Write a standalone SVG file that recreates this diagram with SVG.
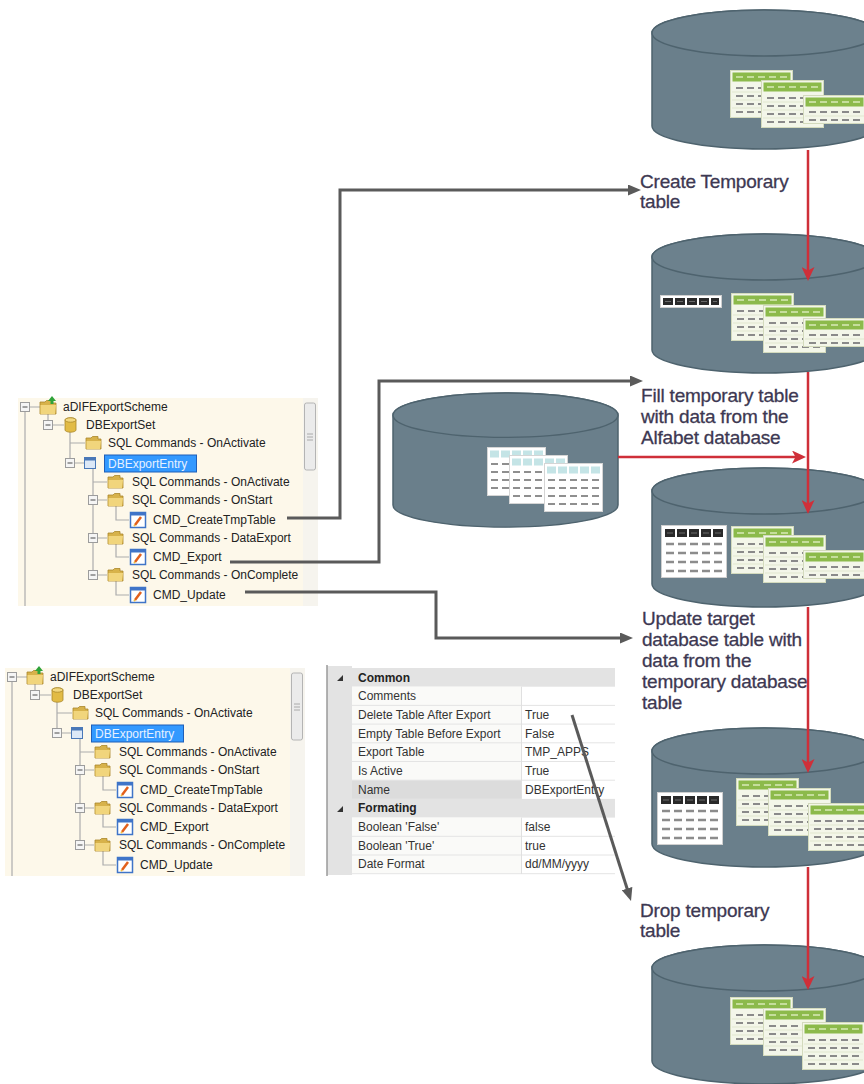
<svg xmlns="http://www.w3.org/2000/svg" xmlns:xlink="http://www.w3.org/1999/xlink" width="864" height="1084" viewBox="0 0 864 1084">
<style>
  .tv{font-family:"Liberation Sans",Arial,sans-serif;font-size:12px;fill:#222}
  .pg{font-family:"Liberation Sans",Arial,sans-serif;font-size:12px;fill:#333}
  .pgb{font-weight:bold;fill:#222}
  .lbl{font-family:"Liberation Sans",Arial,sans-serif;font-size:19px;letter-spacing:-0.2px;fill:#3d3852;stroke:#3d3852;stroke-width:0.3}
  .tl{fill:none;stroke:#acacac;stroke-width:1.2}
  .gray{fill:none;stroke:#5a5a5a;stroke-width:3}
  .red{fill:none;stroke:#cf2f39;stroke-width:2.5}
  .cyl{fill:#6a7f8b;stroke:#4e636e;stroke-width:1.5}
  .rowline{stroke:#e4e4e4;stroke-width:1}
</style>
<defs>
  <marker id="ahGray" markerWidth="13" markerHeight="11" refX="6" refY="5.5" orient="auto" markerUnits="userSpaceOnUse">
    <path d="M0,0 L13,5.5 L0,11 Z" fill="#5a5a5a"/>
  </marker>
  <marker id="ahRed" markerWidth="14" markerHeight="13" refX="8" refY="6.5" orient="auto" markerUnits="userSpaceOnUse">
    <path d="M0,0 L14,6.5 L0,13 L3.5,6.5 Z" fill="#cf2f39"/>
  </marker>

  <!-- database cylinder -->
  <g id="cyl">
    <path class="cyl" d="M0,23 A112.5,23 0 0 1 225,23 V116 A112.5,23 0 0 1 0,116 Z"/>
    <ellipse cx="112.5" cy="23" rx="112.5" ry="23" fill="#6c818d" stroke="#4e636e" stroke-width="1.5"/>
  </g>

  <!-- green data table, 4 rows -->
  <g id="tblG">
    <rect x="0.5" y="0.5" width="62" height="47" fill="#f3f6e9" stroke="#d3dabd"/>
    <rect x="2.5" y="2.5" width="58" height="9" fill="#8cba4b"/>
    <path d="M6,7H13M17,7H24M28,7H35M39,7H46M50,7H57" stroke="#d8eab8" stroke-width="1.5"/>
    <path d="M2,22H61M2,30H61M2,38H61" stroke="#e1e7cf" stroke-width="1"/>
    <path d="M6,18H13M17,18H24M28,18H35M39,18H46M50,18H57M6,26H13M17,26H24M28,26H35M39,26H46M50,26H57M6,34H13M17,34H24M28,34H35M39,34H46M50,34H57M6,42H13M17,42H24M28,42H35M39,42H46M50,42H57" stroke="#8a8a8a" stroke-width="2"/>
  </g>
  <!-- green data table, 2 rows -->
  <g id="tblGs">
    <rect x="0.5" y="0.5" width="62" height="28" fill="#f3f6e9" stroke="#d3dabd"/>
    <rect x="2.5" y="2.5" width="58" height="9" fill="#8cba4b"/>
    <path d="M6,7H13M17,7H24M28,7H35M39,7H46M50,7H57" stroke="#d8eab8" stroke-width="1.5"/>
    <path d="M2,21H61" stroke="#e1e7cf" stroke-width="1"/>
    <path d="M6,17H13M17,17H24M28,17H35M39,17H46M50,17H57M6,25H13M17,25H24M28,25H35M39,25H46M50,25H57" stroke="#8a8a8a" stroke-width="2"/>
  </g>
  <!-- temporary table (black header) -->
  <g id="tblB">
    <rect x="0.5" y="0.5" width="65" height="52" fill="#fff" stroke="#cfcfcf"/>
    <path d="M4,8H14M16,8H26M28,8H38M40,8H50M52,8H62" stroke="#2a2a2a" stroke-width="8"/>
    <path d="M6,8H12M18,8H24M30,8H36M42,8H48M54,8H60" stroke="#6a6a6a" stroke-width="1"/>
    <path d="M5,19H13M17,19H25M29,19H37M41,19H49M53,19H61M5,28H13M17,28H25M29,28H37M41,28H49M53,28H61M5,37H13M17,37H25M29,37H37M41,37H49M53,37H61M5,46H13M17,46H25M29,46H37M41,46H49M53,46H61" stroke="#8c8c8c" stroke-width="2.5"/>
  </g>
  <!-- temporary table header strip -->
  <g id="tblStrip">
    <rect x="0.5" y="0.5" width="61" height="12" fill="#fff" stroke="#cfcfcf"/>
    <path d="M3,6.5H13M15,6.5H25M27,6.5H37M39,6.5H49M51,6.5H59" stroke="#2a2a2a" stroke-width="7"/>
    <path d="M5,6.5H11M17,6.5H23M29,6.5H35M41,6.5H47M53,6.5H57" stroke="#6a6a6a" stroke-width="1"/>
  </g>
  <!-- source table (cyan header) -->
  <g id="tblC">
    <rect x="0.5" y="0.5" width="58" height="48" fill="#fff" stroke="#d5d5d5"/>
    <path d="M3,7H12M14,7H23M25,7H34M36,7H45M47,7H56" stroke="#c4e4e6" stroke-width="7"/>
    <path d="M4,17H11M15,17H22M26,17H33M37,17H44M48,17H55M4,25H11M15,25H22M26,25H33M37,25H44M48,25H55M4,33H11M15,33H22M26,33H33M37,33H44M48,33H55M4,41H11M15,41H22M26,41H33M37,41H44M48,41H55" stroke="#8f8f8f" stroke-width="2"/>
  </g>

  <!-- tree view icons -->
  <g id="exp">
    <rect x="-4.5" y="-4.5" width="9" height="9" fill="#f5f5f5" stroke="#9c9c9c"/>
    <path d="M-2.5,0H2.5" stroke="#4a4a4a" stroke-width="1"/>
  </g>
  <g id="fld">
    <path d="M0,-5 H5 L6.5,-6.5 H12 V-4 H15 V6 H0 Z" fill="#d7b24a" stroke="#a9862b" stroke-width="0.8"/>
    <path d="M0.5,-2 H15 L14,6 H0.5 Z" fill="#f1d57c"/>
  </g>
  <g id="cmd">
    <rect x="-7.5" y="-7.5" width="15" height="15" fill="#fff" stroke="#3f74c8" stroke-width="1.5"/>
    <rect x="-7.5" y="-7.5" width="15" height="3" fill="#3f74c8"/>
    <path d="M-3,5 L3,-3" stroke="#e2601c" stroke-width="2.5"/>
    <path d="M-3,5 L-4,6" stroke="#f2c040" stroke-width="2"/>
  </g>

  <!-- tree view panel -->
  <g id="treeView">
    <rect x="18" y="398" width="300" height="208" fill="#fdf8ea"/>
    <rect x="303" y="398" width="15" height="208" fill="#f6f4ee"/>
    <rect x="304.5" y="403" width="11" height="67" rx="2" fill="#ebebeb" stroke="#b4b4b4"/>
    <path d="M307,434H313M307,437H313M307,440H313" stroke="#9a9a9a" stroke-width="0.8"/>

    <path class="tl" d="M25,412V606M29.5,407H40M48,414V420.5M52.5,425H64M70,430V458.5M70,443H85M74.5,463H84M93,468V570.5M93,482H107M97.5,500H107M97.5,538H107M97.5,575H107M116,506V520H129M116,544V557H129M116,581V595H129"/>

    <use xlink:href="#exp" x="25" y="407"/>
    <use xlink:href="#exp" x="48" y="425"/>
    <use xlink:href="#exp" x="70" y="463"/>
    <use xlink:href="#exp" x="93" y="500"/>
    <use xlink:href="#exp" x="93" y="538"/>
    <use xlink:href="#exp" x="93" y="575"/>

    <!-- scheme icon -->
    <path d="M40,402 H45 L46.5,400.5 H52 V403 H56 V414 H40 Z" fill="#d7b24a" stroke="#a9862b" stroke-width="0.8"/>
    <path d="M40.5,405 H56 L55,414 H40.5 Z" fill="#f1d57c"/>
    <path d="M52,396 L56,401 H53.5 V404 H50.5 V401 H48 Z" fill="#2fa33a"/>
    <!-- export set icon -->
    <path d="M65,420 A5.5,2.2 0 0 1 76,420 V430 A5.5,2.2 0 0 1 65,430 Z" fill="#e2bb45" stroke="#a8862a" stroke-width="0.8"/>
    <ellipse cx="70.5" cy="420" rx="5.5" ry="2.2" fill="#f3d87e" stroke="#a8862a" stroke-width="0.8"/>
    <!-- export entry icon -->
    <rect x="84.5" y="457.5" width="11" height="11" fill="#dce8f7" stroke="#4a78b8"/>
    <rect x="84.5" y="457.5" width="11" height="3" fill="#4a78b8"/>

    <use xlink:href="#fld" x="86" y="443"/>
    <use xlink:href="#fld" x="108" y="482"/>
    <use xlink:href="#fld" x="108" y="500"/>
    <use xlink:href="#fld" x="108" y="538"/>
    <use xlink:href="#fld" x="108" y="575"/>
    <use xlink:href="#cmd" x="138" y="520"/>
    <use xlink:href="#cmd" x="138" y="557"/>
    <use xlink:href="#cmd" x="138" y="595"/>

    <rect x="104.5" y="455" width="92" height="17" fill="#3399ff" stroke="#1f5fb8"/>
    <text class="tv" x="63" y="411">aDIFExportScheme</text>
    <text class="tv" x="86" y="429">DBExportSet</text>
    <text class="tv" x="108" y="447">SQL Commands - OnActivate</text>
    <text class="tv" x="108" y="467.5" style="fill:#e6f1ff">DBExportEntry</text>
    <text class="tv" x="132" y="486">SQL Commands - OnActivate</text>
    <text class="tv" x="132" y="504">SQL Commands - OnStart</text>
    <text class="tv" x="153" y="524">CMD_CreateTmpTable</text>
    <text class="tv" x="132" y="542">SQL Commands - DataExport</text>
    <text class="tv" x="153" y="561">CMD_Export</text>
    <text class="tv" x="132" y="579">SQL Commands - OnComplete</text>
    <text class="tv" x="153" y="599">CMD_Update</text>
  </g>
</defs>

<rect width="864" height="1084" fill="#fff"/>

<!-- tree view, upper copy -->
<g id="tree-upper">
  <use xlink:href="#treeView"/>
</g>

<!-- tree view, lower copy -->
<g id="tree-lower">
  <use xlink:href="#treeView" transform="translate(-13 270)"/>
</g>

<!-- property grid -->
<g id="property-grid">
  <rect x="327" y="666" width="25" height="209" fill="#e3e3e3"/>
  <rect x="352" y="668" width="263" height="18.7" fill="#e3e3e3"/>
  <rect x="352" y="798.9" width="263" height="18.7" fill="#e3e3e3"/>
  <rect x="352" y="686.7" width="169" height="112.2" fill="#fafaf8"/>
  <rect x="352" y="817.6" width="169" height="56" fill="#fafaf8"/>
  <rect x="352" y="780.2" width="169" height="18.7" fill="#dcdcdc"/>
  <path class="rowline" d="M352,705.4H615M352,724.1H615M352,742.8H615M352,761.5H615M352,780.2H615M352,836.3H615M352,855H615M352,873.7H615"/>
  <path d="M521.5,686.7V798.9M521.5,817.6V874" stroke="#e0e0e0" stroke-width="1"/>
  <path d="M327,665V876" stroke="#9a9a9a" stroke-width="1.5"/>
  <path d="M337,681 L343,675 L343,681 Z M337,812 L343,806 L343,812 Z" fill="#333"/>
  <text class="pg pgb" x="358" y="681.5">Common</text>
  <text class="pg" x="358" y="700">Comments</text>
  <text class="pg" x="358" y="718.8">Delete Table After Export</text>
  <text class="pg" x="525" y="718.8">True</text>
  <text class="pg" x="358" y="737.5">Empty Table Before Export</text>
  <text class="pg" x="525" y="737.5">False</text>
  <text class="pg" x="358" y="756.2">Export Table</text>
  <text class="pg" x="525" y="756.2">TMP_APPS</text>
  <text class="pg" x="358" y="774.9">Is Active</text>
  <text class="pg" x="525" y="774.9">True</text>
  <text class="pg" x="358" y="793.6">Name</text>
  <text class="pg" x="525" y="793.6">DBExportEntry</text>
  <text class="pg pgb" x="358" y="812.3">Formating</text>
  <text class="pg" x="358" y="831">Boolean 'False'</text>
  <text class="pg" x="525" y="831">false</text>
  <text class="pg" x="358" y="849.7">Boolean 'True'</text>
  <text class="pg" x="525" y="849.7">true</text>
  <text class="pg" x="358" y="868.4">Date Format</text>
  <text class="pg" x="525" y="868.4">dd/MM/yyyy</text>
</g>

<!-- source database -->
<g id="db-source">
  <use xlink:href="#cyl" transform="translate(393 393) scale(1 0.965)"/>
  <use xlink:href="#tblC" x="487" y="447"/>
  <use xlink:href="#tblC" x="509" y="455"/>
  <use xlink:href="#tblC" x="544" y="463"/>
</g>

<!-- target database states -->
<g id="db-1">
  <use xlink:href="#cyl" x="652" y="10"/>
  <use xlink:href="#tblG" x="730" y="70"/>
  <use xlink:href="#tblG" x="761" y="80"/>
  <use xlink:href="#tblGs" x="803" y="95"/>
</g>
<g id="db-2">
  <use xlink:href="#cyl" x="652" y="234"/>
  <use xlink:href="#tblStrip" x="660" y="295"/>
  <use xlink:href="#tblG" x="731" y="293"/>
  <use xlink:href="#tblG" x="763" y="305"/>
  <use xlink:href="#tblGs" x="803" y="318"/>
</g>
<g id="db-3">
  <use xlink:href="#cyl" x="652" y="468"/>
  <use xlink:href="#tblB" x="661" y="525"/>
  <use xlink:href="#tblG" x="731" y="526"/>
  <use xlink:href="#tblG" x="763" y="535"/>
  <use xlink:href="#tblGs" x="803" y="550"/>
</g>
<g id="db-4">
  <use xlink:href="#cyl" x="652" y="728"/>
  <use xlink:href="#tblB" x="657" y="792"/>
  <use xlink:href="#tblG" x="736" y="778"/>
  <use xlink:href="#tblG" x="768" y="788"/>
  <use xlink:href="#tblG" x="808" y="803"/>
</g>
<g id="db-5">
  <use xlink:href="#cyl" x="652" y="945"/>
  <use xlink:href="#tblG" x="730" y="997"/>
  <use xlink:href="#tblG" x="763" y="1008"/>
  <use xlink:href="#tblG" x="802" y="1022"/>
</g>

<!-- step labels -->
<g id="label-create">
  <text class="lbl" x="640" y="188">Create Temporary</text>
  <text class="lbl" x="640" y="208">table</text>
</g>
<g id="label-fill">
  <text class="lbl" x="641" y="402">Fill temporary table</text>
  <text class="lbl" x="641" y="423">with data from the</text>
  <text class="lbl" x="641" y="444">Alfabet database</text>
</g>
<g id="label-update">
  <text class="lbl" x="642" y="625">Update target</text>
  <text class="lbl" x="642" y="646">database table with</text>
  <text class="lbl" x="642" y="667">data from the</text>
  <text class="lbl" x="642" y="688">temporary database</text>
  <text class="lbl" x="642" y="709">table</text>
</g>
<g id="label-drop">
  <text class="lbl" x="640" y="917">Drop temporary</text>
  <text class="lbl" x="640" y="937">table</text>
</g>

<!-- connectors -->
<g id="connectors">
  <path class="gray" d="M287,518H340V190H634" marker-end="url(#ahGray)"/>
  <path class="gray" d="M230,562H379V381H636" marker-end="url(#ahGray)"/>
  <path class="gray" d="M245,592H436V638H626" marker-end="url(#ahGray)"/>
  <path class="gray" d="M572,715L628.9,894.3" marker-end="url(#ahGray)"/>

  <path class="red" d="M808,150V275" marker-end="url(#ahRed)"/>
  <path class="red" d="M808,372V508" marker-end="url(#ahRed)"/>
  <path class="red" d="M618,457H800" marker-end="url(#ahRed)"/>
  <path class="red" d="M808,607V767" marker-end="url(#ahRed)"/>
  <path class="red" d="M808,867V984" marker-end="url(#ahRed)"/>
</g>
</svg>
